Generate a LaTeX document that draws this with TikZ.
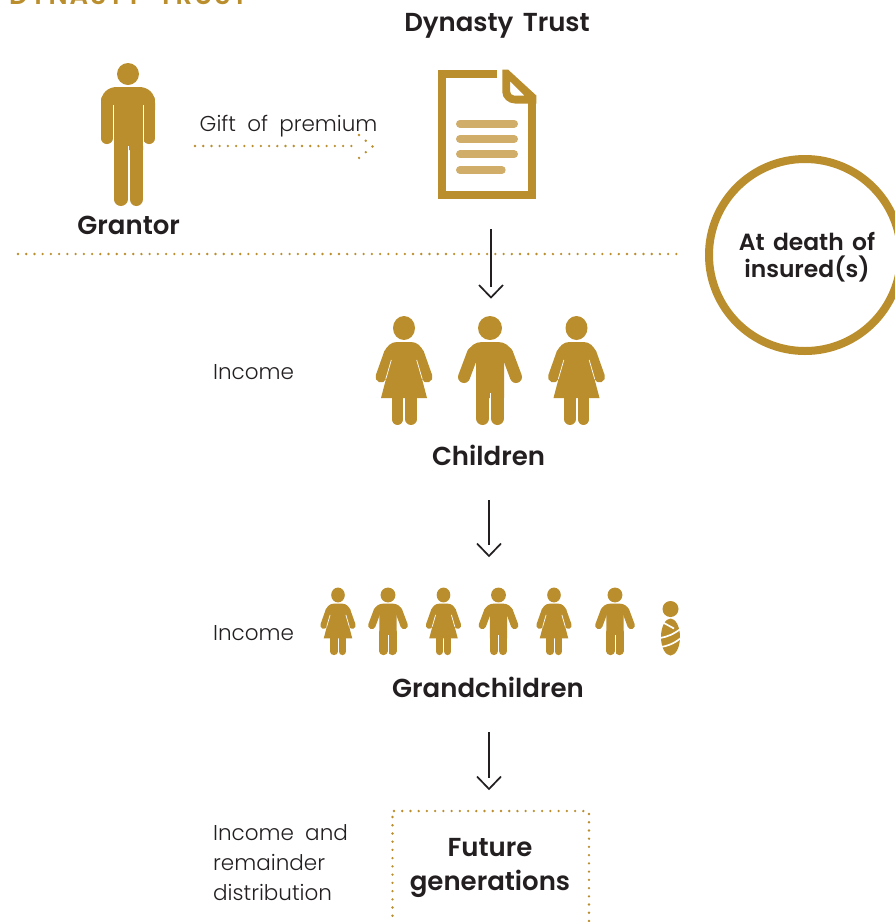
\documentclass[tikz,border=0pt]{standalone}
\usepackage{fontspec}
\setmainfont{Poppins}
\newfontfamily\lightf{Poppins Light}[WordSpace=1.9]
\newfontfamily\boldf{Poppins SemiBold}[WordSpace=1.5]
\newfontfamily\titlef{Poppins SemiBold}[LetterSpace=8,WordSpace=2]
\definecolor{gold}{HTML}{BA8E2D}
\definecolor{paleg}{HTML}{D0AD68}
\definecolor{ink}{HTML}{231F20}
\tikzset{
  heading/.style={font=\boldf\fontsize{26}{33}\selectfont,text=ink,align=center,inner sep=0pt},
  bodytext/.style={font=\lightf\fontsize{21.5}{30}\selectfont,text=ink,align=left,inner sep=0pt,anchor=west},
  dots/.style={draw=gold,line width=2.6pt,line cap=round,dash pattern=on 0pt off 8.23pt},
  flow/.style={draw=ink,line width=1.7pt},
  gapline/.style={draw=white,line width=0.7pt},
  docline/.style={draw=paleg,line width=8pt,line cap=round}
}
% woman: x, y (head centre), scale
\newcommand{\womanfig}[3]{%
\begin{scope}[shift={(#1,#2)},scale=#3]
\fill[gold] (0,0) ellipse [x radius=11pt,y radius=12pt];
\fill[gold] (-13,32) -- (-19.8,24) .. controls (-17,18) and (-13,14) .. (-7,14) -- (7,14) .. controls (13,14) and (17,18) .. (19.8,24) -- (13,32) -- (23,70) -- (-23,70) -- cycle;
\draw[gold,line width=#3*11pt,line cap=round] (-14.5,25) -- (-23,49);
\draw[gold,line width=#3*11pt,line cap=round] (14.5,25) -- (23,49);
\draw[gold,line width=#3*11.5pt,line cap=round] (-6.5,68) -- (-6.5,91.2);
\draw[gold,line width=#3*11.5pt,line cap=round] (7,68) -- (7,91.2);
\draw[gapline] (-12.7,32) -- (-18.2,51);
\draw[gapline] (12.7,32) -- (18.2,51);
\end{scope}}
% man: x, y (head centre), scale
\newcommand{\manfig}[3]{%
\begin{scope}[shift={(#1,#2)},scale=#3]
\fill[gold] (0,0) circle [radius=12pt];
\fill[gold] (-14,32) -- (-22.5,24) .. controls (-20,18) and (-15,14) .. (-8,14) -- (8,14) .. controls (15,14) and (20,18) .. (22.5,24) -- (14,32) -- (14,70) -- (-14,70) -- cycle;
\draw[gold,line width=#3*12pt,line cap=round] (-17,25) -- (-26,49);
\draw[gold,line width=#3*12pt,line cap=round] (17,25) -- (26,49);
\draw[gold,line width=#3*13.4pt,line cap=round] (-7.3,60) -- (-7.3,90.3);
\draw[gold,line width=#3*13.4pt,line cap=round] (7.3,60) -- (7.3,90.3);
\draw[gapline] (0,65) -- (0,98);
\end{scope}}
\begin{document}
\begin{tikzpicture}[x=1pt,y=-1pt]
\useasboundingbox (0,0) rectangle (895,922);
\clip (0,0) rectangle (895,922);
\fill[white] (0,0) rectangle (895,922);

% cut-off title
\node[font=\titlef\fontsize{26}{30}\selectfont,text=gold,anchor=base west,inner sep=0pt] (title) at (9,4.5) {DYNASTY TRUST};

% grantor
\fill[gold] (128,74) circle [radius=11pt];
\fill[gold] (101,110) -- (101,103) .. controls (101,93) and (108,87) .. (117,87) -- (139,87) .. controls (148,87) and (155,93) .. (155,103) -- (155,110) -- (143,110) -- (143,150) -- (114,150) -- (114,110) -- cycle;
\draw[gold,line width=11.5pt,line cap=round] (106.8,100) -- (106.8,138.3);
\draw[gold,line width=11.5pt,line cap=round] (149.2,100) -- (149.2,138.3);
\draw[gold,line width=13.4pt,line cap=round] (120.8,140) -- (120.8,199.3);
\draw[gold,line width=13.4pt,line cap=round] (136.2,140) -- (136.2,199.3);
\draw[gapline] (113.3,105) -- (113.3,146);
\draw[gapline] (143.7,105) -- (143.7,146);
\draw[gapline] (128.5,146) -- (128.5,207);
\node[heading] (grantor) at (128.7,225) {Grantor};

% gift arrow
\node[bodytext] (gift) at (199.5,126.5) {Gift of premium};
\coordinate (giftstart) at (195,146);
\coordinate (giftmid) at (356,146);
\coordinate (giftend) at (372.5,146.5);
\coordinate (giftup) at (359,135);
\coordinate (giftdown) at (359,158);
\draw[dots] (giftstart) -- (giftmid);
\draw[dots,dash pattern=on 0pt off 8.85pt] (giftup) -- (giftend) -- (giftdown);

% trust document
\node[heading] (trustlabel) at (497,25.5) {Dynasty Trust};
\draw[gold,line width=8pt] (497,73.5) -- (442.3,73.5) -- (442.3,194.7) -- (532.3,194.7) -- (532.3,97);
\fill[gold,even odd rule] (502.3,69.5) -- (508,69.5) -- (536.3,95.5) -- (536.3,103.5) -- (515,103.5) .. controls (508,103.5) and (502.3,98) .. (502.3,92) -- cycle
 (510,81) -- (524.5,95.5) -- (514,95.5) .. controls (511.5,95.5) and (510,93.5) .. (510,91) -- cycle;
\draw[docline] (460,123.7) -- (514,123.7);
\draw[docline] (460,139) -- (514,139);
\draw[docline] (460,154.3) -- (514,154.3);
\draw[docline] (460,170) -- (501.7,170);

% divider
\coordinate (divl) at (18,254);
\coordinate (divr) at (677,254);
\draw[dots] (divl) -- (divr);

% circle
\draw[gold,line width=8pt] (805,255) circle [radius=96pt];
\node[heading,font=\boldf\fontsize{23.4}{27}\selectfont] (death) at (807,257.5) {At death of\\insured(s)};

% flow 1
\coordinate (a1s) at (491,229);
\coordinate (a1m) at (491,287);
\coordinate (a1e) at (491,297.5);
\coordinate (a1l) at (479,285);
\coordinate (a1r) at (503,285);
\draw[flow] (a1s) -- (a1m);
\draw[flow] (a1l) -- (a1e) -- (a1r);

% children
\node[bodytext] (inc1) at (213,372.5) {Income};
\womanfig{404}{328}{1}
\manfig{490}{328}{1}
\womanfig{576.5}{328}{1}
\node[heading] (children) at (488.5,455) {Children};

% flow 2
\coordinate (a2s) at (489,500);
\coordinate (a2m) at (489,545);
\coordinate (a2e) at (489,556);
\coordinate (a2l) at (477,543.5);
\coordinate (a2r) at (501,543.5);
\draw[flow] (a2s) -- (a2m);
\draw[flow] (a2l) -- (a2e) -- (a2r);

% grandchildren
\node[bodytext] (inc2) at (213,633.5) {Income};
\womanfig{338}{595}{.62}
\manfig{388}{595}{.62}
\womanfig{443.5}{595}{.62}
\manfig{498.5}{595}{.62}
\womanfig{554}{595}{.62}
\manfig{615}{595}{.62}
% baby
\fill[gold] (670.5,609) circle [radius=8pt];
\begin{scope}
\clip (661,618) rectangle (680,656);
\fill[gold] (670.5,637) ellipse [x radius=9.5pt,y radius=18.5pt];
\draw[draw=white,line width=1.7pt] (663,622.5) -- (674,628.5);
\draw[draw=white,line width=1.7pt] (660,638) .. controls (667,637) and (674,634) .. (681,628.5);
\draw[draw=white,line width=1.7pt] (660,647) .. controls (667,646.5) and (674,643.5) .. (681,638);
\end{scope}
\node[heading] (grandchildren) at (488,687) {Grandchildren};

% flow 3
\coordinate (a3s) at (489,732);
\coordinate (a3m) at (489,778);
\coordinate (a3e) at (489,789);
\coordinate (a3l) at (477,776.5);
\coordinate (a3r) at (501,776.5);
\draw[flow] (a3s) -- (a3m);
\draw[flow] (a3l) -- (a3e) -- (a3r);

% future generations
\node[bodytext,anchor=north west] (inc3) at (213,824) {Income and\\remainder\\distribution};
\coordinate (bl) at (392.5,817);
\coordinate (bbl) at (392.5,925);
\coordinate (tl) at (394,811);
\coordinate (tr) at (586,811);
\coordinate (br) at (589,814);
\coordinate (bbr) at (589,925);
\draw[dots] (bl) -- (bbl);
\draw[dots] (tl) -- (tr);
\draw[dots] (br) -- (bbr);
\node[heading,font=\boldf\fontsize{26}{34}\selectfont] (future) at (490,868) {Future\\generations};
\end{tikzpicture}
\end{document}
